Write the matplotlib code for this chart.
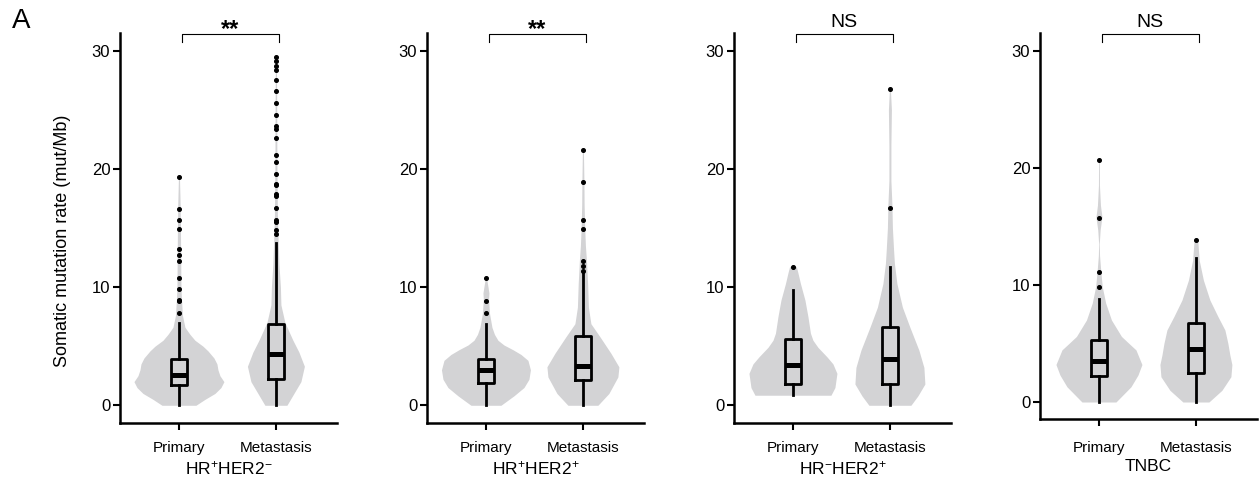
import numpy as np
import matplotlib
matplotlib.use('Agg')
from matplotlib import pyplot as plt

plt.rcParams['font.family'] = ['Liberation Sans', 'DejaVu Sans']
plt.rcParams['mathtext.fontset'] = 'custom'
plt.rcParams['mathtext.rm'] = 'Liberation Sans'
plt.rcParams['mathtext.it'] = 'Liberation Sans:italic'

# ---- data ----
subtypes = [r'HR$^{+}$HER2$^{-}$', r'HR$^{+}$HER2$^{+}$', r'HR$^{-}$HER2$^{+}$', 'TNBC']
groups = ['Primary', 'Metastasis']
signif = ['**', '**', 'NS', 'NS']

# box statistics per subtype: [primary, metastasis]
q1 = [[1.7, 2.2], [1.85, 2.18], [1.84, 1.84], [2.22, 2.5]]
med = [[2.6, 4.3], [3.0, 3.33], [3.45, 3.9], [3.53, 4.5]]
q3 = [[3.9, 6.9], [3.9, 5.87], [5.65, 6.64], [5.3, 6.78]]
whislo = [[0.0, 0.0], [0.0, 0.0], [0.85, 0.0], [0.0, 0.0]]
whishi = [[6.95, 13.7], [6.85, 11.2], [9.75, 11.7], [8.8, 12.3]]
fliers = [
    [[7.8, 8.8, 8.9, 9.8, 10.8, 12.2, 12.7, 13.2, 14.9, 15.7, 16.6, 19.3],
     [14.5, 14.8, 15.5, 15.7, 16.7, 17.7, 17.9, 18.6, 18.7, 19.6, 20.6, 21.2,
      22.6, 23.4, 23.6, 24.6, 25.6, 26.6, 27.5, 28.4, 28.7, 29.1, 29.5]],
    [[7.8, 8.85, 10.8],
     [11.4, 11.8, 12.2, 14.9, 15.7, 18.9, 21.6]],
    [[11.7],
     [16.7, 26.75]],
    [[9.85, 11.1, 15.75, 20.65],
     [13.8]],
]

# violin outlines: mutation rate levels and relative density (half width)
vio_y = [
    [[0, 0.5, 1.0, 1.5, 2.0, 2.5, 3.0, 3.5, 4.0, 4.6, 5.0, 5.5, 6.0, 6.6, 7.6, 9.0, 10.0, 12.0, 15.0, 17.0, 19.3],
     [0, 1.0, 2.0, 3.3, 4.5, 5.5, 7.0, 8.5, 10.0, 12.0, 14.0, 16.0, 20.0, 25.0, 29.5]],
    [[0, 0.8, 1.5, 2.2, 3.0, 3.8, 4.3, 4.7, 5.1, 5.5, 6.0, 6.6, 7.8, 9.0, 9.5, 10.3, 10.8],
     [0, 1.0, 2.4, 3.25, 4.4, 5.8, 6.9, 8.3, 10.3, 12.3, 13.5, 15.0, 17.0, 19.0, 21.6]],
    [[0.85, 1.5, 2.7, 3.5, 4.1, 4.9, 5.5, 6.1, 7.5, 8.9, 10.3, 11.2, 11.7, 11.9],
     [0, 0.8, 1.8, 3.2, 4.66, 6.6, 8.3, 10.3, 12.0, 13.1, 15.0, 17.0, 19.0, 22.0, 25.0, 26.75]],
    [[0, 1.3, 2.3, 3.2, 4.45, 5.0, 5.6, 7.0, 8.45, 9.85, 11.3, 12.5, 13.5, 14.7, 15.8, 16.8, 18.5, 20.65],
     [0, 1.0, 2.16, 3.2, 4.0, 5.0, 6.15, 7.3, 8.7, 10.4, 12.1, 13.6, 13.9]],
]
vio_d = [
    [[17, 26, 36, 42, 45, 41, 39, 38, 35, 29, 24, 16, 11, 6, 3.5, 2.5, 2, 1.8, 1.5, 1.2, 0.5],
     [11, 18, 25, 28.5, 23, 17, 9, 5, 4.5, 3, 2.2, 1.5, 1, 0.8, 0.5]],
    [[15, 28, 38, 43, 44.5, 42, 35, 27, 18, 12, 8.5, 6, 3.5, 2.6, 3, 1.5, 0.5],
     [15, 26, 35, 36, 28, 17, 8, 5.5, 4.7, 3.5, 2.5, 1.8, 1.2, 1, 0.5]],
    [[38, 42, 44, 40, 34, 25, 20, 17.5, 15, 12, 7.5, 5, 3.5, 0.5],
     [21, 28, 35, 34, 29, 20, 12.5, 7, 4.5, 3.7, 2.5, 2, 1, 1, 1.5, 0.5]],
    [[17, 32, 39, 43, 37, 30, 22.5, 12.5, 6.7, 3.3, 1.7, 0.6, 0.3, 1.2, 3, 1.5, 0.5, 0.4],
     [13, 26, 35, 36, 34, 32, 29, 22, 14, 7.5, 3.3, 2, 0.5]],
]

# ---- layout ----
W, H = 1259, 491
fig = plt.figure(figsize=(W / 100, H / 100), dpi=100)
lefts = [120, 427, 734, 1040]
bottoms = [423, 423, 423, 419]
tops = [33, 33, 33, 33]
ylims = [(-1.5, 31.5), (-1.5, 31.5), (-1.5, 31.5), (-1.45, 31.5)]
pw = 217
dens_scale = 1 / 97.0
vio_color = '#d3d3d5'

for i in range(4):
    ax = fig.add_axes([lefts[i] / W, (H - bottoms[i]) / H, pw / W, (bottoms[i] - tops[i]) / H])
    for j in range(2):
        y = np.array(vio_y[i][j])
        d = np.array(vio_d[i][j]) * dens_scale
        ax.fill_betweenx(y, j - d, j + d, color=vio_color, lw=0, zorder=1)
    stats = []
    for j in range(2):
        stats.append(dict(med=med[i][j], q1=q1[i][j], q3=q3[i][j],
                          whislo=whislo[i][j], whishi=whishi[i][j],
                          fliers=fliers[i][j]))
    ax.bxp(stats, positions=[0, 1], widths=0.16, showcaps=False,
           boxprops=dict(color='black', lw=2.0),
           whiskerprops=dict(color='black', lw=2.0),
           medianprops=dict(color='black', lw=3.6, solid_capstyle='butt'),
           flierprops=dict(marker='o', markersize=2.6, markerfacecolor='black',
                           markeredgecolor='black'),
           manage_ticks=False, zorder=3)
    ax.set_xlim(-0.608, 1.63)
    ax.set_ylim(*ylims[i])
    ax.set_yticks([0, 10, 20, 30])
    ax.set_xticks([0, 1])
    ax.set_xticklabels(groups, fontsize=11)
    xpad = 8 if i < 3 else 11
    ax.tick_params(axis='y', labelsize=12, width=1.5, length=5, pad=2)
    ax.tick_params(axis='x', width=1.5, length=5, pad=xpad)
    for s in ['top', 'right']:
        ax.spines[s].set_visible(False)
    for s in ['left', 'bottom']:
        ax.spines[s].set_linewidth(1.8)
    ax.set_xlabel(subtypes[i], fontsize=12.5, labelpad=3)
    # significance bracket
    ax.plot([0.03, 0.03, 1.03, 1.03], [30.7, 31.45, 31.45, 30.7], color='black',
            lw=0.8, clip_on=False, zorder=4)
    if signif[i] == '**':
        ax.text(0.53, 31.25, signif[i], ha='center', va='baseline', fontsize=17,
                fontweight='bold', clip_on=False)
    else:
        ax.text(0.53, 32.05, signif[i], ha='center', va='baseline', fontsize=14,
                clip_on=False)
    if i == 0:
        ax.set_ylabel('Somatic mutation rate (mut/Mb)', fontsize=13)
        ax.yaxis.set_label_coords(-0.225, 0.467)

fig.text(12 / W, 1 - 21 / H, 'A', fontsize=20, ha='left', va='center')
fig.savefig('out.png', dpi=100)
